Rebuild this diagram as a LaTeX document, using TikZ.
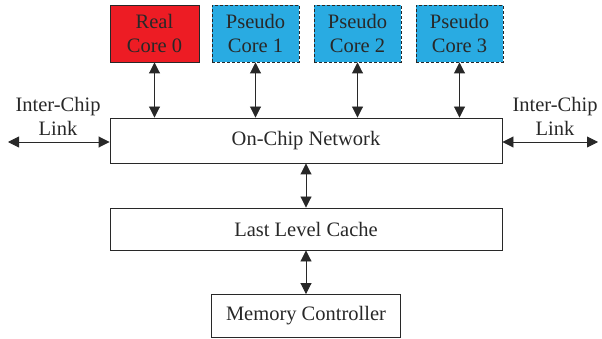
\documentclass[tikz,border=0pt]{standalone}
\usepackage{fontspec}
\setmainfont{Liberation Serif}
\usetikzlibrary{arrows.meta}
\definecolor{realred}{RGB}{237,28,36}
\definecolor{pseudoblue}{RGB}{41,171,226}
\definecolor{edge}{RGB}{40,40,40}
\begin{document}
\begin{tikzpicture}[x=1pt,y=-1pt,
  box/.style={draw=edge,line width=0.9pt,rectangle,inner sep=0pt,align=center,
    font=\fontsize{20.5}{24}\selectfont,text=edge},
  corebox/.style={box,minimum height=57pt},
  realcore/.style={corebox,fill=realred,minimum width=89pt},
  pseudocore/.style={corebox,fill=pseudoblue,dashed,dash pattern=on 3pt off 2pt,minimum width=87pt},
  wide/.style={box,minimum width=392pt},
  lbl/.style={align=center,inner sep=0pt,font=\fontsize{20.5}{24}\selectfont,text=edge},
  link/.style={edge,line width=0.9pt,{Triangle[width=11pt,length=11pt]}-{Triangle[width=11pt,length=11pt]}}
]
\useasboundingbox (0,0) rectangle (602,339);
\node[realcore] (c0) at (154.5,33.5) {Real\\Core 0};
\node[pseudocore] (c1) at (255.5,33.5) {Pseudo\\Core 1};
\node[pseudocore] (c2) at (357.5,33.5) {Pseudo\\Core 2};
\node[pseudocore] (c3) at (459.5,33.5) {Pseudo\\Core 3};
\node[wide,minimum height=45pt] (net) at (306,140.5) {On-Chip Network};
\node[wide,minimum height=42pt] (llc) at (306,229) {Last Level Cache};
\node[box,minimum width=189pt,minimum height=43pt] (mc) at (306,316) {Memory Controller};
\foreach \c in {c0,c1,c2,c3}{
  \draw[link] (\c.south) -- (\c.south |- net.north);
}
\draw[link] (net.south) -- (llc.north);
\draw[link] (llc.south) -- (mc.north);
\coordinate (lleft) at (8,142);
\coordinate (lright) at (598,142);
\draw[link] (lleft) -- (lleft -| net.west);
\draw[link] (lright -| net.east) -- (lright);
\node[lbl] (tl) at (58,116.5) {Inter-Chip\\Link};
\node[lbl] (tr) at (555,116.5) {Inter-Chip\\Link};
\end{tikzpicture}
\end{document}
